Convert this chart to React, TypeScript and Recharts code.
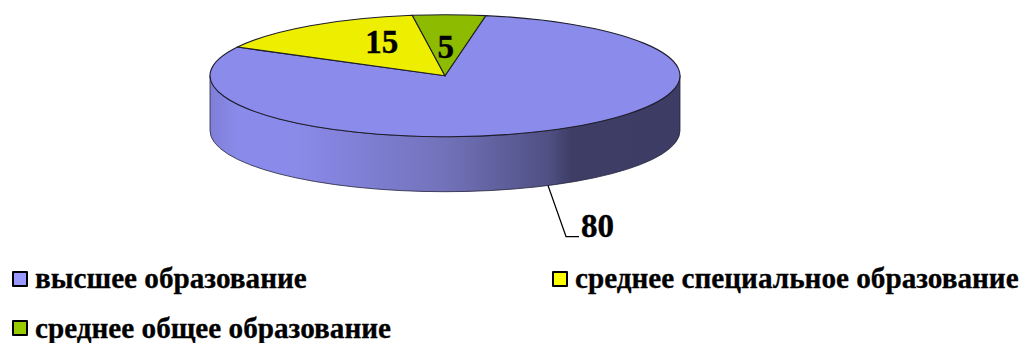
import React from "react";
import { PieChart, Pie, Cell, Legend } from "recharts";

const categories = [
  "высшее образование",
  "среднее специальное образование",
  "среднее общее образование",
];
const shares = [80, 15, 5];
const sliceColors = ["#8b8bec", "#eeee00", "#8cbb00"];
const swatchColors = ["#9999ff", "#ffff00", "#99cc00"];

const data = categories.map((name, i) => ({ name, value: shares[i] }));

const FONT = "'Liberation Serif', 'Times New Roman', serif";
const TILT = 61 / 235; // vertical squash of the disc
const DEPTH = 55; // wall height

const rad = (deg: number) => (deg * Math.PI) / 180;

// point on the tilted rim for a recharts angle (0 = east, counter-clockwise)
const rimPoint = (cx: number, cy: number, r: number, deg: number) => ({
  x: cx + r * Math.cos(rad(deg)),
  y: cy - r * TILT * Math.sin(rad(deg)),
});

const DiscSlice = (props: any) => {
  const { cx, cy, outerRadius: r, startAngle, endAngle, fill } = props;
  const ry = r * TILT;
  const a = rimPoint(cx, cy, r, startAngle);
  const b = rimPoint(cx, cy, r, endAngle);
  const large = Math.abs(startAngle - endAngle) > 180 ? 1 : 0;
  const top = `M${cx},${cy} L${a.x},${a.y} A${r},${ry} 0 ${large} 1 ${b.x},${b.y} Z`;

  // only the part of the slice facing the viewer gets a wall
  const wallStart = Math.min(startAngle, 0);
  const wallEnd = Math.max(endAngle, -180);
  let wall = null;
  if (wallStart > wallEnd) {
    const p = rimPoint(cx, cy, r, wallStart);
    const q = rimPoint(cx, cy, r, wallEnd);
    wall = (
      <path
        d={`M${p.x},${p.y} A${r},${ry} 0 0 1 ${q.x},${q.y} L${q.x},${q.y + DEPTH} A${r},${ry} 0 0 0 ${p.x},${p.y + DEPTH} Z`}
        fill="url(#wallShade)"
        stroke="#23233c"
        strokeWidth={0.8}
      />
    );
  }

  return (
    <g>
      {wall}
      <path d={top} fill={fill} stroke="#1e1e2c" strokeWidth={1.1} />
    </g>
  );
};

const labelStyle = {
  fontFamily: FONT,
  fontSize: 33,
  fontWeight: 700,
  fill: "#000",
  stroke: "#000",
  strokeWidth: 0.4,
};

const SliceLabel = (props: any) => {
  const { cx, cy, outerRadius: r, midAngle, value, index } = props;
  if (index === 0) {
    // big slice: value sits below the disc on a leader line
    const rim = rimPoint(cx, cy, r, midAngle);
    const startY = rim.y + DEPTH;
    const kneeX = rim.x + 18;
    const kneeY = startY + 51;
    return (
      <g>
        <path
          d={`M${rim.x},${startY} L${kneeX},${kneeY} H${kneeX + 13}`}
          fill="none"
          stroke="#000"
          strokeWidth={1.2}
        />
        <text x={kneeX + 15} y={kneeY} {...labelStyle}>
          {value}
        </text>
      </g>
    );
  }
  const spot = rimPoint(cx, cy, r, midAngle);
  const f = index === 1 ? 0.58 : 0.45;
  const x = cx + (spot.x - cx) * f + (index === 1 ? 15 : -1);
  const y = cy + (spot.y - cy) * f + (index === 1 ? 6 : 10);
  return (
    <text x={x} y={y} textAnchor="middle" {...labelStyle}>
      {value}
    </text>
  );
};

const LegendBlock = ({ payload }: any) => (
  <div
    style={{
      display: "grid",
      gridTemplateColumns: "540px 1fr",
      gridAutoRows: "49.5px",
      paddingLeft: 12,
      fontFamily: FONT,
      fontSize: 29.2,
      fontWeight: 700,
      color: "#000",
      WebkitTextStroke: "0.3px #000",
    }}
  >
    {(payload || []).map((entry: any, i: number) => (
      <div key={entry.value} style={{ display: "flex", alignItems: "center", whiteSpace: "nowrap" }}>
        <span
          style={{
            display: "inline-block",
            boxSizing: "border-box",
            width: 16,
            height: 16,
            marginRight: 7,
            border: "2px solid #000",
            borderRadius: 1,
            background: swatchColors[i],
          }}
        />
        {entry.value}
      </div>
    ))}
  </div>
);

export default function App() {
  return (
    <div style={{ position: "absolute", left: 0, top: 0, width: 1021, height: 343, background: "#fff" }}>
      <PieChart width={1021} height={343} margin={{ top: 0, right: 0, bottom: 0, left: 0 }}>
        <defs>
          <linearGradient id="wallShade" x1="0" y1="0" x2="1" y2="0">
            <stop offset="0%" stopColor="#7f7fd8" />
            <stop offset="6%" stopColor="#8a8aea" />
            <stop offset="18%" stopColor="#8a8aea" />
            <stop offset="50%" stopColor="#7272ba" />
            <stop offset="72%" stopColor="#505084" />
            <stop offset="77%" stopColor="#3d3d66" />
            <stop offset="100%" stopColor="#3c3c64" />
          </linearGradient>
        </defs>
        <Pie
          data={data}
          dataKey="value"
          nameKey="name"
          cx={445}
          cy={75.7}
          innerRadius={0}
          outerRadius={235}
          startAngle={80}
          endAngle={-280}
          shape={DiscSlice}
          label={SliceLabel}
          labelLine={false}
          isAnimationActive={false}
        >
          {data.map((d, i) => (
            <Cell key={d.name} fill={sliceColors[i]} />
          ))}
        </Pie>
        <Legend
          content={LegendBlock}
          itemSorter={null}
          wrapperStyle={{ position: "absolute", left: 0, top: 254, width: 1021, height: 89, bottom: "auto" }}
        />
      </PieChart>
    </div>
  );
}
